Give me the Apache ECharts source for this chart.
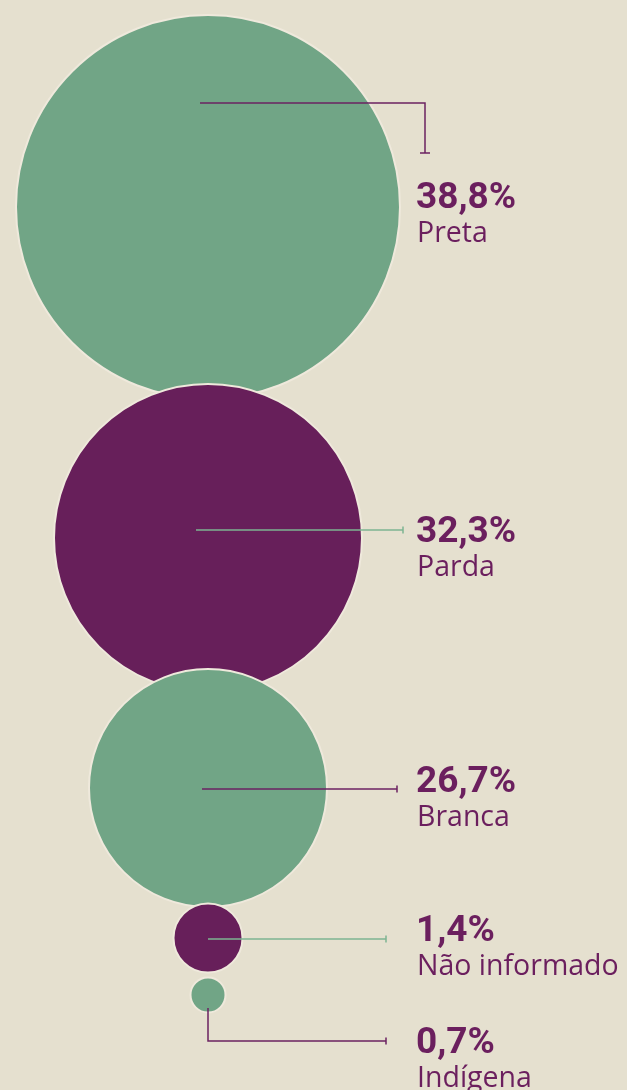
<!DOCTYPE html>
<html>
<head>
<meta charset="utf-8">
<script src="https://cdn.jsdelivr.net/npm/echarts@6/dist/echarts.min.js"></script>
<style>
  html, body { margin: 0; padding: 0; background: #e5e0cf; }
  #myChart { width: 627px; height: 1090px; }
</style>
</head>
<body>
<div id="myChart"></div>
<script>
// dados
var categories = ['Preta', 'Parda', 'Branca', 'Não informado', 'Indígena'];
var values = [38.8, 32.3, 26.7, 1.4, 0.7];
var valueLabels = ['38,8%', '32,3%', '26,7%', '1,4%', '0,7%'];

// layout (px)
var centerX = 208;
var centerY = [207, 538, 788, 938, 995];
var diameters = [384, 308, 238, 69, 35];
var fills = ['#71a586', '#671f5a', '#71a586', '#671f5a', '#71a586'];
var lineColors = ['#6b2262', '#7db592', '#6b2262', '#7db592', '#6b2262'];
var leaders = [
  [[200, 103], [425, 103], [425, 153]],
  [[196, 530], [403, 530]],
  [[202, 789], [397, 789]],
  [[208, 939], [386, 939]],
  [[208, 1008], [208, 1041], [386, 1041]]
];
var labelX = 416;
var labelTop = [182, 516, 766, 915, 1027];

var textColor = '#6b1f5e';

var myChart = echarts.init(document.getElementById('myChart'));

function renderLeader(params, api) {
  var i = params.dataIndex;
  var pts = leaders[i].map(function (p) { return api.coord(p); });
  var a = pts[pts.length - 2];
  var b = pts[pts.length - 1];
  var tick;
  if (a[0] === b[0]) {
    tick = { x1: b[0] - 5, y1: b[1], x2: b[0] + 5, y2: b[1] };
  } else {
    tick = { x1: b[0], y1: b[1] - 3.5, x2: b[0], y2: b[1] + 3.5 };
  }
  var top = api.coord([labelX, labelTop[i]]);
  return {
    type: 'group',
    children: [
      {
        type: 'polyline',
        shape: { points: pts },
        style: { stroke: lineColors[i], lineWidth: 1.5, fill: null }
      },
      {
        type: 'line',
        shape: tick,
        style: { stroke: lineColors[i], lineWidth: 1.5 }
      },
      {
        type: 'text',
        x: top[0],
        y: top[1] - 2,
        style: {
          text: valueLabels[i],
          fill: textColor,
          font: 'bold 37px Roboto',
          verticalAlign: 'top'
        }
      },
      {
        type: 'text',
        x: top[0] + 1,
        y: top[1] + 37,
        style: {
          text: categories[i],
          fill: textColor,
          font: '28.5px "Open Sans"',
          verticalAlign: 'top'
        }
      }
    ]
  };
}

var option = {
  backgroundColor: '#e5e0cf',
  animation: false,
  grid: { left: 0, right: 0, top: 0, bottom: 0 },
  xAxis: { type: 'value', min: 0, max: 627, show: false },
  yAxis: { type: 'value', min: 0, max: 1090, inverse: true, show: false },
  series: [
    {
      type: 'scatter',
      symbol: 'circle',
      symbolSize: function (val, params) {
        return diameters[params.dataIndex];
      },
      itemStyle: { borderColor: '#efe9dc', borderWidth: 2, opacity: 1 },
      data: categories.map(function (c, i) {
        return {
          name: c,
          value: [centerX, centerY[i], values[i]],
          itemStyle: { color: fills[i] }
        };
      }),
      z: 2
    },
    {
      type: 'custom',
      renderItem: renderLeader,
      data: categories.map(function (c, i) { return [i]; }),
      z: 3
    }
  ]
};

myChart.setOption(option);
</script>
</body>
</html>
